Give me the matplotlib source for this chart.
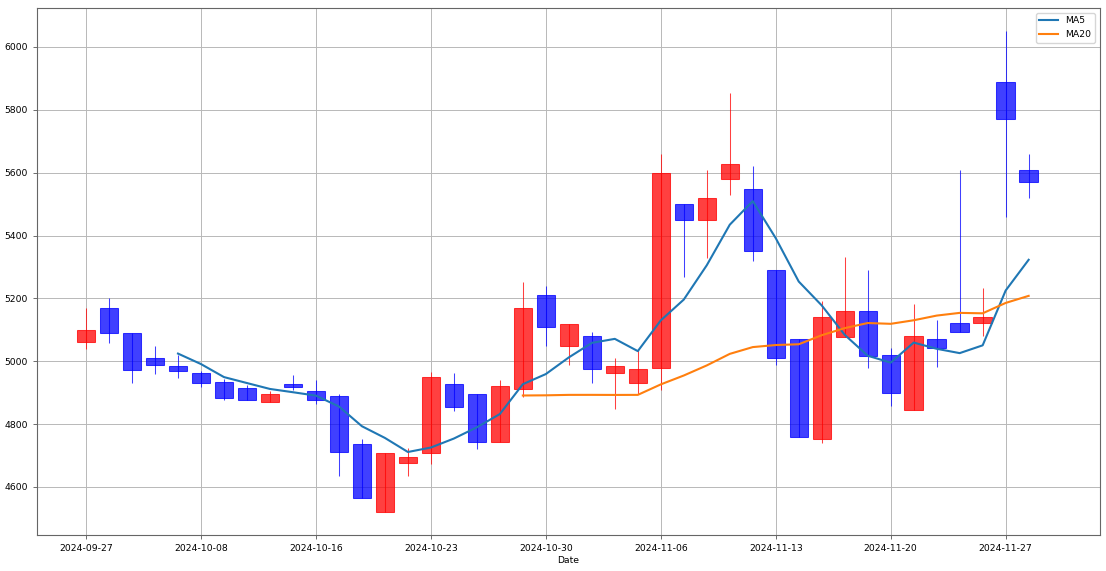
import numpy as np
import pandas as pd
import matplotlib
matplotlib.use("Agg")
import matplotlib.pyplot as plt

# ── Daily OHLC data ───────────────────────────────────
dates = ["2024-09-27", "2024-09-30", "2024-10-02", "2024-10-04", "2024-10-07",
         "2024-10-08", "2024-10-10", "2024-10-11", "2024-10-14", "2024-10-15",
         "2024-10-16", "2024-10-17", "2024-10-18", "2024-10-21", "2024-10-22",
         "2024-10-23", "2024-10-24", "2024-10-25", "2024-10-28", "2024-10-29",
         "2024-10-30", "2024-10-31", "2024-11-01", "2024-11-04", "2024-11-05",
         "2024-11-06", "2024-11-07", "2024-11-08", "2024-11-11", "2024-11-12",
         "2024-11-13", "2024-11-14", "2024-11-15", "2024-11-18", "2024-11-19",
         "2024-11-20", "2024-11-21", "2024-11-22", "2024-11-25", "2024-11-26",
         "2024-11-27", "2024-11-28"]

opens  = [5060, 5169, 5091, 5010, 4984, 4964, 4933, 4914, 4869, 4929,
          4905, 4890, 4737, 4521, 4677, 4707, 4929, 4897, 4743, 4913,
          5212, 5049, 5080, 4963, 4932, 4978, 5501, 5450, 5581, 5549,
          5289, 5070, 4752, 5078, 5161, 5020, 4845, 5071, 5121, 5121,
          5890, 5610]
highs  = [5168, 5200, 5091, 5050, 5019, 4970, 4945, 4923, 4904, 4955,
          4939, 4897, 4753, 4709, 4723, 4966, 4961, 4897, 4939, 5251,
          5240, 5119, 5094, 5009, 5035, 5660, 5501, 5610, 5854, 5620,
          5289, 5070, 5191, 5331, 5289, 5042, 5181, 5131, 5610, 5232,
          6050, 5660]
lows   = [5038, 5058, 4932, 4958, 4947, 4918, 4878, 4878, 4869, 4907,
          4863, 4636, 4564, 4521, 4636, 4673, 4841, 4721, 4743, 4886,
          5049, 4987, 4932, 4847, 4895, 4909, 5268, 5328, 5530, 5319,
          4988, 4760, 4740, 5078, 4980, 4856, 4845, 4983, 5092, 5080,
          5459, 5520]
closes = [5099, 5091, 4973, 4989, 4970, 4932, 4884, 4878, 4895, 4918,
          4878, 4711, 4564, 4709, 4694, 4949, 4854, 4743, 4920, 5169,
          5110, 5119, 4974, 4984, 4974, 5599, 5450, 5520, 5629, 5350,
          5009, 4760, 5140, 5161, 5018, 4898, 5080, 5041, 5092, 5142,
          5770, 5569]

df = pd.DataFrame({"Open": opens, "High": highs, "Low": lows, "Close": closes},
                  index=pd.to_datetime(dates))
df["MA5"] = df["Close"].rolling(5).mean()
df["MA20"] = df["Close"].rolling(20).mean()

x = np.arange(len(df))
up = df["Close"] >= df["Open"]
colors = np.where(up, "red", "blue")

# ── Plot ──────────────────────────────────────────────
fig = plt.figure(figsize=(11.06, 5.71), dpi=100)
ax = fig.add_axes([0.0335, 0.063, 0.961, 0.923])

body_bottom = np.minimum(df["Open"], df["Close"])
body_height = np.abs(df["Close"] - df["Open"])
ax.vlines(x, df["Low"], df["High"], color=colors, linewidth=0.75, alpha=0.75)
ax.bar(x, body_height, bottom=body_bottom, width=0.8, color=colors,
       edgecolor=colors, linewidth=0.75, alpha=0.75)

ax.plot(x, df["MA5"], label="MA5", color="#1f77b4", linewidth=1.5)
ax.plot(x, df["MA20"], label="MA20", color="#ff7f0e", linewidth=1.5)

ax.set_xlim(-2.13, 44.1)
ax.set_ylim(4447, 6124)
ax.set_yticks(np.arange(4600, 6001, 200))
ticks = x[::5]
ax.set_xticks(ticks)
ax.set_xticklabels([df.index[i].strftime("%Y-%m-%d") for i in ticks], fontsize=6.7)
ax.tick_params(axis="y", labelsize=6.7)
ax.tick_params(length=3, width=0.6, color="#555555")
ax.set_xlabel("Date", fontsize=6.7, labelpad=2)
ax.grid(True, color="#b8b8b8", linewidth=0.7)
ax.set_axisbelow(True)
for s in ax.spines.values():
    s.set_linewidth(0.8)
    s.set_color("#666666")
ax.legend(loc="upper right", fontsize=6.7)

fig.savefig("out.png", dpi=100)
